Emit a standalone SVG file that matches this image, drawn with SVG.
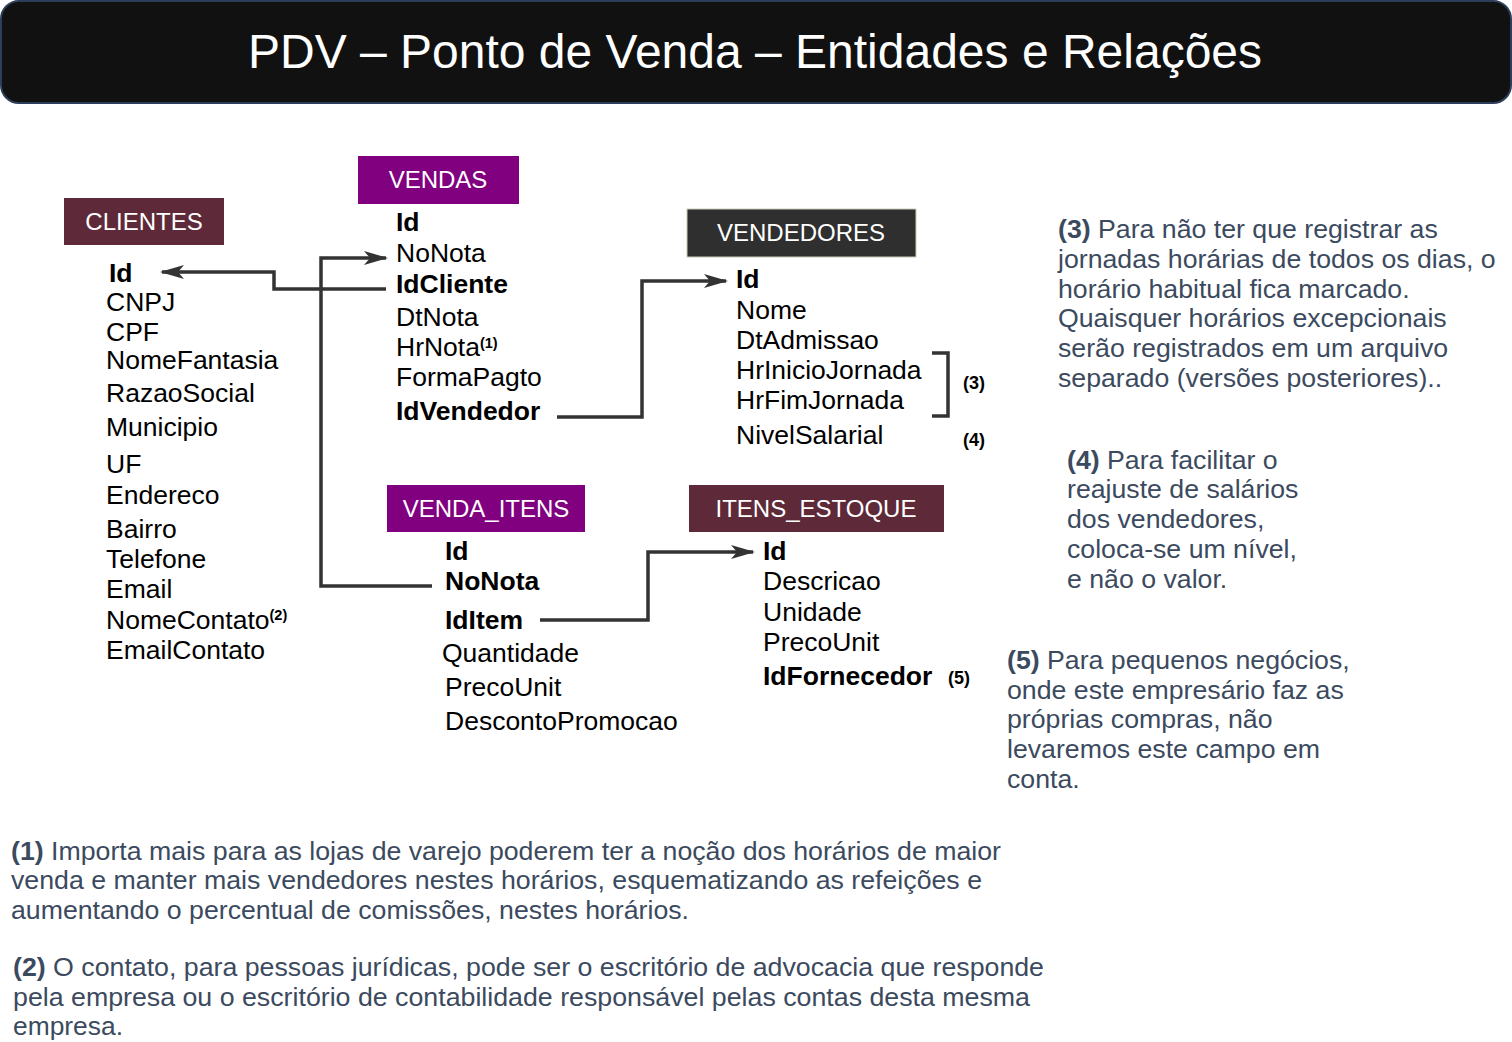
<svg xmlns="http://www.w3.org/2000/svg" width="1512" height="1042" viewBox="0 0 1512 1042">
<style>
.f{font-family:"Liberation Sans",Arial,sans-serif;}
.hd{font-family:"Liberation Sans",Arial,sans-serif;font-size:24px;fill:#ffffff;text-anchor:middle;}
.fld{font-family:"Liberation Sans",Arial,sans-serif;font-size:26.5px;fill:#000;}
.b{font-weight:bold;}
.sup{font-size:14.5px;font-weight:bold;}
.tag{font-family:"Liberation Sans",Arial,sans-serif;font-size:18px;font-weight:bold;fill:#000;}
.note{font-family:"Liberation Sans",Arial,sans-serif;font-size:26.7px;fill:#3b4a5e;}
.note2{font-family:"Liberation Sans",Arial,sans-serif;font-size:25px;fill:#3b4a5e;}
.con{fill:none;stroke:#333;stroke-width:3.5;}
</style>
<defs>
<marker id="ah" viewBox="0 0 24 14" refX="22" refY="7" markerWidth="24" markerHeight="14" markerUnits="userSpaceOnUse" orient="auto">
<path d="M0,0 L24,7 L0,14 L6,7 z" fill="#333"/>
</marker>
</defs>
<rect width="1512" height="1042" fill="#ffffff"/>
<g id="title">
<rect x="1" y="1" width="1510" height="102" rx="18" fill="#111111" stroke="#2c3e5a" stroke-width="2"/>
<text x="755" y="68" class="f" font-size="48" fill="#ffffff" text-anchor="middle">PDV – Ponto de Venda – Entidades e Relações</text>
</g>
<g id="connectors">
<path class="con" d="M386,289 H274 V272 H162" marker-end="url(#ah)"/>
<path class="con" d="M432,586 H321 V258 H386" marker-end="url(#ah)"/>
<path class="con" d="M557,417 H642 V281 H726" marker-end="url(#ah)"/>
<path class="con" d="M540,620 H648 V552 H753" marker-end="url(#ah)"/>
<path class="con" d="M932,353 H948 V416 H932"/>
</g>
<g id="clientes">
<rect x="64" y="198" width="160" height="47" fill="#5e2a3a"/>
<text x="144" y="230" class="hd">CLIENTES</text>
<text x="109" y="282" class="fld b">Id</text>
<text x="106" y="311" class="fld">CNPJ</text>
<text x="106" y="341" class="fld">CPF</text>
<text x="106" y="369" class="fld">NomeFantasia</text>
<text x="106" y="402" class="fld">RazaoSocial</text>
<text x="106" y="436" class="fld">Municipio</text>
<text x="106" y="473" class="fld">UF</text>
<text x="106" y="504" class="fld">Endereco</text>
<text x="106" y="538" class="fld">Bairro</text>
<text x="106" y="568" class="fld">Telefone</text>
<text x="106" y="598" class="fld">Email</text>
<text x="106" y="629" class="fld">NomeContato<tspan class="sup" dy="-9">(2)</tspan></text>
<text x="106" y="659" class="fld">EmailContato</text>
</g>
<g id="vendas">
<rect x="358" y="156" width="161" height="48" fill="#800080"/>
<text x="438" y="188" class="hd">VENDAS</text>
<text x="396" y="231" class="fld b">Id</text>
<text x="396" y="262" class="fld">NoNota</text>
<text x="396" y="293" class="fld b">IdCliente</text>
<text x="396" y="326" class="fld">DtNota</text>
<text x="396" y="356" class="fld">HrNota<tspan class="sup" dy="-8">(1)</tspan></text>
<text x="396" y="386" class="fld">FormaPagto</text>
<text x="396" y="420" class="fld b">IdVendedor</text>
</g>
<g id="vendedores">
<rect x="687" y="209" width="229" height="48" fill="#2f2f2f" stroke="#c8d0b8" stroke-width="1"/>
<text x="801" y="241" class="hd">VENDEDORES</text>
<text x="736" y="288" class="fld b">Id</text>
<text x="736" y="319" class="fld">Nome</text>
<text x="736" y="349" class="fld">DtAdmissao</text>
<text x="736" y="379" class="fld">HrInicioJornada</text>
<text x="736" y="409" class="fld">HrFimJornada</text>
<text x="736" y="444" class="fld">NivelSalarial</text>
<text x="963" y="389" class="tag">(3)</text>
<text x="963" y="446" class="tag">(4)</text>
</g>
<g id="venda_itens">
<rect x="387" y="485" width="198" height="47" fill="#800080"/>
<text x="486" y="517" class="hd">VENDA_ITENS</text>
<text x="445" y="560" class="fld b">Id</text>
<text x="445" y="590" class="fld b">NoNota</text>
<text x="445" y="629" class="fld b">IdItem</text>
<text x="442" y="662" class="fld">Quantidade</text>
<text x="445" y="696" class="fld">PrecoUnit</text>
<text x="445" y="730" class="fld">DescontoPromocao</text>
</g>
<g id="itens_estoque">
<rect x="689" y="485" width="255" height="47" fill="#5e2a3a"/>
<text x="816" y="517" class="hd">ITENS_ESTOQUE</text>
<text x="763" y="560" class="fld b">Id</text>
<text x="763" y="590" class="fld">Descricao</text>
<text x="763" y="621" class="fld">Unidade</text>
<text x="763" y="651" class="fld">PrecoUnit</text>
<text x="763" y="685" class="fld b">IdFornecedor</text>
<text x="948" y="684" class="tag">(5)</text>
</g>
<g id="note3">
<text x="1058" y="238" class="note"><tspan font-weight="bold">(3)</tspan> Para não ter que registrar as</text>
<text x="1058" y="268" class="note">jornadas horárias de todos os dias, o</text>
<text x="1058" y="298" class="note">horário habitual fica marcado.</text>
<text x="1058" y="327" class="note">Quaisquer horários excepcionais</text>
<text x="1058" y="357" class="note">serão registrados em um arquivo</text>
<text x="1058" y="387" class="note">separado (versões posteriores)..</text>
</g>
<g id="note4">
<text x="1067" y="469" class="note"><tspan font-weight="bold">(4)</tspan> Para facilitar o</text>
<text x="1067" y="498" class="note">reajuste de salários</text>
<text x="1067" y="528" class="note">dos vendedores,</text>
<text x="1067" y="558" class="note">coloca-se um nível,</text>
<text x="1067" y="588" class="note">e não o valor.</text>
</g>
<g id="note5">
<text x="1007" y="669" class="note"><tspan font-weight="bold">(5)</tspan> Para pequenos negócios,</text>
<text x="1007" y="699" class="note">onde este empresário faz as</text>
<text x="1007" y="728" class="note">próprias compras, não</text>
<text x="1007" y="758" class="note">levaremos este campo em</text>
<text x="1007" y="788" class="note">conta.</text>
</g>
<g id="note1">
<text x="11" y="860" class="note2" textLength="990" lengthAdjust="spacingAndGlyphs"><tspan font-weight="bold">(1)</tspan> Importa mais para as lojas de varejo poderem ter a noção dos horários de maior</text>
<text x="11" y="889" class="note2" textLength="971" lengthAdjust="spacingAndGlyphs">venda e manter mais vendedores nestes horários, esquematizando as refeições e</text>
<text x="11" y="919" class="note2" textLength="678" lengthAdjust="spacingAndGlyphs">aumentando o percentual de comissões, nestes horários.</text>
</g>
<g id="note2">
<text x="13" y="976" class="note2" textLength="1031" lengthAdjust="spacingAndGlyphs"><tspan font-weight="bold">(2)</tspan> O contato, para pessoas jurídicas, pode ser o escritório de advocacia que responde</text>
<text x="13" y="1006" class="note2" textLength="1017" lengthAdjust="spacingAndGlyphs">pela empresa ou o escritório de contabilidade responsável pelas contas desta mesma</text>
<text x="13" y="1035" class="note2" textLength="110" lengthAdjust="spacingAndGlyphs">empresa.</text>
</g>
</svg>
